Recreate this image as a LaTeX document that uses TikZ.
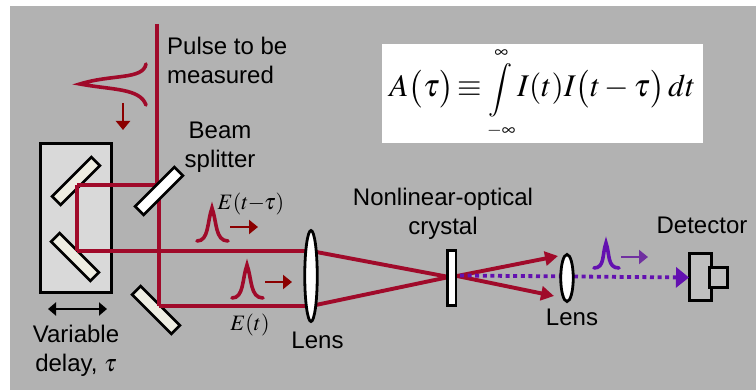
\documentclass[tikz,border=0pt]{standalone}
\usepackage{mathptmx}
\usepackage[no-math]{fontspec}
\setmainfont{Liberation Sans}
\usepackage{xcolor}
\usetikzlibrary{arrows.meta, shapes.geometric}
\definecolor{beamred}{HTML}{A00A2A}
\definecolor{arrowred}{HTML}{8B0000}
\definecolor{beampurple}{HTML}{6310B0}
\definecolor{arrowpurple}{HTML}{7030A0}
\definecolor{mirrorfill}{HTML}{EEEDE2}

\begin{document}
\begin{tikzpicture}[x=1pt,y=-1pt,>={Triangle[length=13pt,width=14pt]},
    beam/.style={line width=3.9pt,color=beamred},
    dotbeam/.style={line width=3.8pt,color=beampurple,dash pattern=on 4pt off 3.6pt},
    pulsecurve/.style={line width=3.6pt,line cap=round},
    flow/.style={-{Triangle[length=9pt,width=14pt]},line width=2.8pt},
    mirror/.style={draw=black,line width=2.7pt,fill=mirrorfill,minimum width=55.5pt,minimum height=12pt,inner sep=0pt,outer sep=0pt},
    lens/.style={ellipse,draw=black,line width=2.8pt,fill=white,inner sep=0pt,outer sep=0pt},
    label/.style={font=\fontsize{24}{29}\selectfont,align=center,inner sep=0pt},
    field/.style={font=\fontsize{22}{24}\selectfont,inner sep=0pt}]
    \useasboundingbox (0,0) rectangle (756,390);
    \fill[fill=black!30] (10,6) rectangle (756,390);

    \node[fill=white,minimum width=321pt,minimum height=99pt,inner sep=0pt,font=\fontsize{31.5}{36}\selectfont] (eq) at (542.5,93.5)
        {$A\bigl(\tau\bigr)\mkern-2mu\equiv\mkern-1mu\mathop{\scalebox{0.85}{$\displaystyle\int$}}\limits_{\scriptscriptstyle-\infty}^{\scriptscriptstyle\infty}\mkern-1mu I(t)I\bigl(t-\tau\bigr)\,dt$};

    \node[draw=black,line width=3pt,fill=black!15,minimum width=71pt,minimum height=149pt,inner sep=0pt] (stage) at (76,218) {};
    \node[mirror,rotate=45] (m1) at (76,181) {};
    \node[mirror,rotate=-45] (m2) at (75,257) {};
    \node[mirror,rotate=-45] (m3) at (156,310) {};
    \node[draw=black,line width=3pt,fill=black!25,minimum width=22pt,minimum height=47pt,inner sep=0pt,outer sep=0pt] (det) at (700,277.5) {};
    \node[draw=black,line width=3pt,fill=black!25,minimum width=18pt,minimum height=20pt,inner sep=0pt] (dethead) at (718.5,277.5) {};

    \coordinate (in) at (157,24);
    \coordinate (split) at (157,185);
    \coordinate (splitb) at (159,185);
    \coordinate (turna) at (77,185);
    \coordinate (turnb) at (77,251);
    \coordinate (turnc) at (159,306);
    \coordinate (lensa) at (311,251);
    \coordinate (lensb) at (311,306);
    \coordinate (focus) at (449,277);
    \coordinate (outa) at (457,276);
    \coordinate (enda) at (558,256);
    \coordinate (endb) at (554,296);
    \coordinate (sfg) at (460,275.5);

    \path[beam] (in) edge (split)
        (split) edge (turna)
        (turna) edge (turnb)
        (turnb) edge (lensa)
        (splitb) edge (turnc)
        (turnc) edge (lensb)
        (lensa) edge (focus)
        (lensb) edge (focus)
        (outa) edge[->] (enda)
        (outa) edge[->] (endb);
    \path[dotbeam] (sfg) edge[-{Triangle[length=13pt,width=20pt]}] (det.west);

    \node[rectangle,draw=black,line width=2.7pt,fill=white,minimum width=55.5pt,minimum height=12pt,inner sep=0pt,rotate=45] (bs) at (159,191) {};
    \node[lens,minimum width=12.5pt,minimum height=91pt] (lens1) at (311,276) {};
    \node[lens,minimum width=12.5pt,minimum height=47pt] (lens2) at (567,278) {};
    \node[draw=black,line width=2.8pt,fill=white,minimum width=8.5pt,minimum height=55pt,inner sep=0pt] (crystal) at (451.7,278) {};

    \draw[pulsecurve,color=beamred] (146,64) .. controls (143,80) and (112,74) .. (80,84) .. controls (112,90) and (140,88) .. (146,105);
    \draw[pulsecurve,color=beamred] (197,241) .. controls (209,241) and (207,222) .. (212,208) .. controls (217,222) and (215,241) .. (228,241);
    \draw[pulsecurve,color=beamred] (232,298) .. controls (244,298) and (242,279) .. (247,265) .. controls (252,279) and (250,298) .. (263,298);
    \draw[pulsecurve,color=beampurple] (594,268) .. controls (605,268) and (602,254) .. (606,243) .. controls (610,254) and (607,268) .. (619,268);

    \coordinate (da) at (123,103);
    \coordinate (db) at (123,130);
    \coordinate (fa) at (230,227);
    \coordinate (fb) at (258,227);
    \coordinate (ga) at (265,282);
    \coordinate (gb) at (292,282);
    \coordinate (ha) at (621,257);
    \coordinate (hb) at (648,257);
    \coordinate (sa) at (48,309);
    \coordinate (sb) at (107,309);
    \path[flow,color=arrowred] (da) edge (db)
        (fa) edge (fb)
        (ga) edge (gb);
    \path[flow,color=arrowpurple] (ha) edge (hb);
    \path[{Triangle[length=8pt,width=13pt]}-{Triangle[length=8pt,width=13pt]},line width=2.4pt] (sa) edge (sb);

    \node[label,align=left,anchor=west] (pulse) at (167,60) {Pulse to be\\measured};
    \node[label] (split label) at (220,147) {Beam\\splitter};
    \node[label] (delay label) at (76,351) {Variable\\delay, $\tau$};
    \node[label] (lens1 label) at (317.5,340) {Lens};
    \node[label] (lens2 label) at (572,317) {Lens};
    \node[label] (crystal label) at (443,214) {Nonlinear-optical\\crystal};
    \node[label] (det label) at (702,225) {Detector};
    \node[field] (late) at (251,204) {$E(t\mkern-3mu-\mkern-3mu\tau)$};
    \node[field] (early) at (250,325) {$E(t)$};
\end{tikzpicture}
\end{document}
